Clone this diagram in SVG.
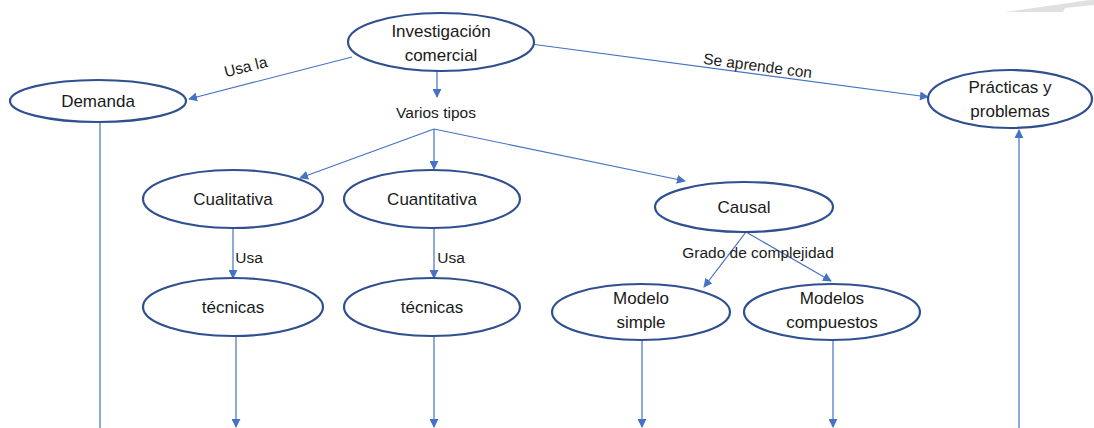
<svg xmlns="http://www.w3.org/2000/svg" width="1094" height="428" viewBox="0 0 1094 428">
<defs>
<marker id="ah" viewBox="0 0 10 10" refX="9" refY="5" markerWidth="9" markerHeight="9" markerUnits="userSpaceOnUse" orient="auto">
<path d="M0,0 L10,5 L0,10 z" fill="#4472C4"/>
</marker>
<style>
.n ellipse{fill:#fff;stroke:#2F4F8F;stroke-width:2.2}
.n text{font-family:"Liberation Sans",Arial,sans-serif;font-size:17px;fill:#1a1a1a;text-anchor:middle}
.e line{stroke:#4472C4;stroke-width:1.2;fill:none}
.a{marker-end:url(#ah)}
.lbl{font-family:"Liberation Sans",Arial,sans-serif;font-size:15.5px;fill:#1a1a1a;text-anchor:middle}
</style>
</defs>
<rect width="1094" height="428" fill="#fff"/>
<polygon points="1005,12 1090,0 1094,0 1094,5 1065,8 1063,12" fill="#e0e0e0"/>
<g class="e" id="connectors">
<line class="a" x1="352" y1="57" x2="189" y2="99"/>
<line class="a" x1="531" y1="44" x2="928" y2="97"/>
<line class="a" x1="437" y1="70" x2="437" y2="97"/>
<line class="a" x1="434" y1="129" x2="300" y2="178"/>
<line class="a" x1="434" y1="129" x2="434" y2="169"/>
<line class="a" x1="434" y1="129" x2="685" y2="181"/>
<line class="a" x1="233" y1="228" x2="233" y2="278"/>
<line class="a" x1="434" y1="228" x2="434" y2="278"/>
<line class="a" x1="746" y1="232" x2="704" y2="287"/>
<line class="a" x1="746" y1="232" x2="831" y2="281"/>
<line x1="100" y1="122" x2="100" y2="428"/>
<line class="a" x1="236" y1="336" x2="236" y2="427"/>
<line class="a" x1="434" y1="336" x2="434" y2="427"/>
<line class="a" x1="642" y1="340" x2="642" y2="427"/>
<line class="a" x1="833" y1="340" x2="833" y2="427"/>
<line class="a" x1="1019" y1="428" x2="1019" y2="130"/>
</g>
<g id="labels">
<text class="lbl" transform="translate(247,72) rotate(-14)">Usa la</text>
<text class="lbl" transform="translate(757,71) rotate(7.5)">Se aprende con</text>
<text class="lbl" x="436" y="118">Varios tipos</text>
<text class="lbl" x="249" y="263">Usa</text>
<text class="lbl" x="451" y="263">Usa</text>
<text class="lbl" x="758" y="258">Grado de complejidad</text>
</g>
<g class="n" id="investigacion"><ellipse cx="441" cy="42" rx="93" ry="29"/><text x="441" y="37">Investigación</text><text x="441" y="61">comercial</text></g>
<g class="n" id="demanda"><ellipse cx="98" cy="101" rx="88" ry="21"/><text x="98" y="107">Demanda</text></g>
<g class="n" id="practicas"><ellipse cx="1010" cy="99" rx="82" ry="29"/><text x="1010" y="93">Prácticas y</text><text x="1010" y="117">problemas</text></g>
<g class="n" id="cualitativa"><ellipse cx="233" cy="199" rx="90" ry="29"/><text x="233" y="205">Cualitativa</text></g>
<g class="n" id="cuantitativa"><ellipse cx="432" cy="199" rx="88" ry="29"/><text x="432" y="205">Cuantitativa</text></g>
<g class="n" id="causal"><ellipse cx="744" cy="207" rx="89" ry="25"/><text x="744" y="213">Causal</text></g>
<g class="n" id="tecnicas1"><ellipse cx="233" cy="307" rx="90" ry="29"/><text x="233" y="313">técnicas</text></g>
<g class="n" id="tecnicas2"><ellipse cx="432" cy="307" rx="88" ry="29"/><text x="432" y="313">técnicas</text></g>
<g class="n" id="modelo-simple"><ellipse cx="641" cy="312" rx="89" ry="28"/><text x="641" y="304">Modelo</text><text x="641" y="328">simple</text></g>
<g class="n" id="modelos-compuestos"><ellipse cx="832" cy="312" rx="88" ry="28"/><text x="832" y="304">Modelos</text><text x="832" y="328">compuestos</text></g>
</svg>
